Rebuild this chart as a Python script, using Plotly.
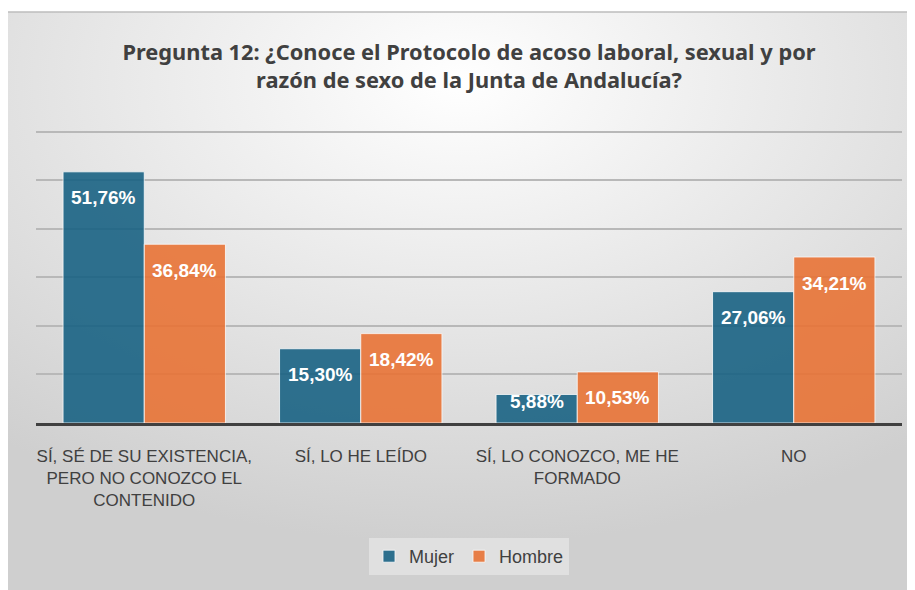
import plotly.graph_objects as go
import urllib.parse

categories = [
    "SÍ, SÉ DE SU EXISTENCIA,<br>PERO NO CONOZCO EL<br>CONTENIDO",
    "SÍ, LO HE LEÍDO",
    "SÍ, LO CONOZCO, ME HE<br>FORMADO",
    "NO",
]
mujer = [51.76, 15.30, 5.88, 27.06]
hombre = [36.84, 18.42, 10.53, 34.21]
series_names = ["Mujer", "Hombre"]
title_text = ("Pregunta 12: ¿Conoce el Protocolo de acoso laboral, sexual y por<br>"
              "razón de sexo de la Junta de Andalucía?")

# the page body adds an 8px margin, so the figure is sized to the visible area
W, H = 907, 582
ML, MR, MT, MB = 28, 13, 119, 167
YMAX = 61
BARGAP = 0.25
colors = ["#156082", "#E97132"]

def fmt(v):
    return f"{v:.2f}".replace(".", ",") + "%"

fig = go.Figure()
for name, vals, col in zip(series_names, [mujer, hombre], colors):
    fig.add_trace(go.Bar(
        name=name, x=categories, y=vals,
        marker=dict(color=col, line=dict(color="rgba(255,255,255,0.8)", width=1)),
        opacity=0.88,
    ))

# data labels
plot_w = W - ML - MR
plot_h = H - MT - MB
px_per_unit = plot_h / YMAX
cat_w = plot_w / len(categories)
bar_w = cat_w * (1 - BARGAP) / 2
for si, vals in enumerate([mujer, hombre]):
    off = (-0.5 if si == 0 else 0.5) * bar_w
    for c, v in zip(categories, vals):
        h = v * px_per_unit
        shift = -min(26, h - 22)
        fig.add_annotation(
            x=c, y=v, xref="x", yref="y", xshift=off, yshift=shift,
            text=fmt(v), showarrow=False, yanchor="middle",
            font=dict(family="Liberation Sans, Arial", size=19, color="white", weight="bold"),
        )

BX0, BY0 = -3, 4   # chart box top-left in figure px
BW, BH = W - BX0, H - BY0
svg = (f'<svg xmlns="http://www.w3.org/2000/svg" width="{BW}" height="{BH}" preserveAspectRatio="none">'
       '<defs><radialGradient id="g" cx="0.5" cy="0.12" r="0.8">'
       '<stop offset="0" stop-color="#ffffff"/><stop offset="1" stop-color="#cfcfcf"/>'
       f'</radialGradient></defs><rect width="{BW}" height="{BH}" fill="url(#g)"/></svg>')
src = "data:image/svg+xml;charset=utf-8," + urllib.parse.quote(svg)

fig.update_layout(
    width=W, height=H,
    margin=dict(l=ML, r=MR, t=MT, b=MB, autoexpand=False),
    paper_bgcolor="white", plot_bgcolor="rgba(0,0,0,0)",
    barmode="group", bargap=BARGAP, bargroupgap=0,
    title=dict(text=title_text, x=0.5, xanchor="center", xref="paper",
               y=1 - 52 / H, yanchor="top", yref="container",
               font=dict(family="Noto Sans", size=21.8, color="#404040", weight="bold"),
               ),
    images=[dict(source=src, xref="paper", yref="paper", sizing="stretch",
                 x=(BX0 - ML) / plot_w, y=1 + (MT - BY0) / plot_h,
                 sizex=BW / plot_w, sizey=BH / plot_h,
                 xanchor="left", yanchor="top", layer="below")],
    shapes=[dict(type="rect", xref="paper", yref="paper",
                 x0=(BX0 - ML) / plot_w, x1=(W + 5 - ML) / plot_w,
                 y0=1 + (MT - BY0) / plot_h, y1=1 + (MT - H - 10) / plot_h,
                 line=dict(color="#bdbdbd", width=1.5), fillcolor="rgba(0,0,0,0)", layer="below")],
    legend=dict(orientation="h", x=0.5, xanchor="center", y=-(530 - (H - MB)) / plot_h, yanchor="top",
                bgcolor="rgba(255,255,255,0.35)",
                font=dict(family="Liberation Sans Narrow, Arial Narrow, sans-serif", size=18, color="#404040"),
                itemwidth=30, traceorder="normal"),
    showlegend=True,
)
fig.update_xaxes(
    showline=True, linecolor="#404040", linewidth=2.5,
    tickfont=dict(family="Liberation Sans Narrow, Arial Narrow, sans-serif", size=17, color="#404040"),
    ticks="", ticklabelstandoff=16, showgrid=False,
)
fig.update_yaxes(
    range=[0, YMAX], dtick=10, showticklabels=False, showgrid=True,
    gridcolor="#b8b8b8", gridwidth=1.5, zeroline=False, showline=False,
)
fig.write_html("out.html")
